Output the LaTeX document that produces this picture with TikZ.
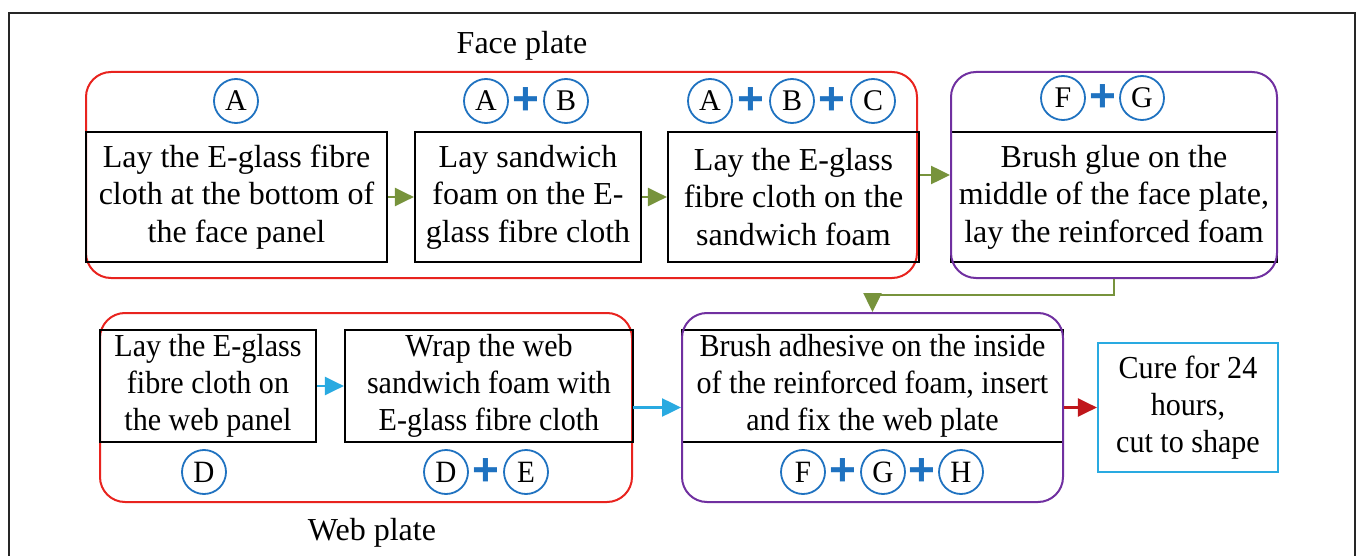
\documentclass[tikz,border=0pt]{standalone}
\usepackage{fontspec}
\setmainfont{Liberation Serif}
\newfontfamily\topfont{Liberation Serif}
\newfontfamily\botfont[FakeStretch=0.94]{Liberation Serif}
\newfontfamily\plusfont{Liberation Sans}
\usetikzlibrary{arrows.meta}
\definecolor{cred}{RGB}{232,35,30}
\definecolor{cpurple}{RGB}{112,48,160}
\definecolor{cgreen}{RGB}{119,147,60}
\definecolor{clblue}{RGB}{41,170,225}
\definecolor{cdred}{RGB}{192,22,27}
\definecolor{cblue}{RGB}{31,114,192}
\begin{document}
\begin{tikzpicture}[x=1pt,y=-1pt,
  stepbox/.style={draw=black, line width=2.2pt, align=center, inner sep=0pt},
  toptxt/.style={font=\topfont\fontsize{32}{37.5}\selectfont},
  bottxt/.style={font=\botfont\fontsize{32}{37}\selectfont},
  grp/.style={draw, rounded corners=25pt, line width=2pt, inner sep=0pt},
  lbl/.style={circle, draw=cblue, line width=1.8pt, minimum size=44pt, inner sep=0pt, font=\topfont\fontsize{30}{30}\selectfont},
  lblb/.style={lbl, font=\botfont\fontsize{31}{30}\selectfont},
  plus/.style={text=cblue, inner sep=0pt, font=\plusfont\bfseries\fontsize{46}{46}\selectfont},
  arr/.style={line width=2.5pt, -{Triangle[length=19pt,width=18pt]}},
  title/.style={font=\topfont\fontsize{32}{36}\selectfont}
]
\useasboundingbox (0,0) rectangle (1357,556);
% outer frame
\draw[line width=1.3pt, draw=black!85] (9,556) -- (9,13) -- (1355,13) -- (1355,556);

% titles
\node[title] (facelbl) at (522,46) {Face plate};
\node[title] (weblbl) at (372,533) {Web plate};

% red containers
\node[grp, draw=cred, minimum width=831pt, minimum height=206pt] (facec) at (501.5,175) {};
\node[grp, draw=cred, minimum width=532pt, minimum height=189pt] (webc) at (366,407.5) {};

% top row boxes
\node[stepbox, toptxt, minimum width=301pt, minimum height=130pt] (a1) at (236.5,197)
  {Lay the E-glass fibre\\cloth at the bottom of\\the face panel};
\node[stepbox, toptxt, minimum width=226pt, minimum height=130pt] (a2) at (528,197)
  {Lay sandwich\\foam on the E-\\glass fibre cloth};
\node[stepbox, toptxt, minimum width=251pt, minimum height=130pt] (a3) at (793.5,197)
  {Lay the E-glass\\fibre cloth on the\\sandwich foam};
\node[stepbox, toptxt, minimum width=326pt, minimum height=130pt] (p1) at (1114,197)
  {Brush glue on the\\middle of the face plate,\\lay the reinforced foam};

% bottom row boxes
\node[stepbox, bottxt, minimum width=216pt, minimum height=112pt] (b1) at (208,386)
  {Lay the E-glass\\fibre cloth on\\the web panel};
\node[stepbox, bottxt, minimum width=288pt, minimum height=112pt] (b2) at (489,386)
  {Wrap the web\\sandwich foam with\\E-glass fibre cloth};
\node[stepbox, bottxt, minimum width=381pt, minimum height=112pt] (p2) at (872.5,386)
  {Brush adhesive on the inside\\of the reinforced foam, insert\\and fix the web plate};
\node[stepbox, bottxt, draw=clblue, minimum width=180pt, minimum height=129pt] (cure) at (1188,407.5)
  {Cure for 24\\hours,\\cut to shape};

% purple containers
\node[grp, draw=cpurple, minimum width=326pt, minimum height=206pt] (p1c) at (1114,175) {};
\node[grp, draw=cpurple, minimum width=381pt, minimum height=189pt] (p2c) at (872.5,407.5) {};

% circled labels - top
\node[lbl] (cA1) at (236,101) {A};
\node[lbl] (cA2) at (486,101) {A};
\node[plus] (pl1) at (526,101) {+};
\node[lbl] (cB2) at (566,101) {B};
\node[lbl] (cA3) at (710,101) {A};
\node[plus] (pl2) at (751,101) {+};
\node[lbl] (cB3) at (792,101) {B};
\node[plus] (pl3) at (832,101) {+};
\node[lbl] (cC3) at (873,101) {C};
\node[lbl] (cF1) at (1063,98) {F};
\node[plus] (pl4) at (1103,98) {+};
\node[lbl] (cG1) at (1142,98) {G};

% circled labels - bottom
\node[lblb] (cD1) at (204,472) {D};
\node[lblb] (cD2) at (446,472) {D};
\node[plus] (pl5) at (486,472) {+};
\node[lblb] (cE2) at (526,472) {E};
\node[lblb] (cF2) at (803,472) {F};
\node[plus] (pl6) at (843,472) {+};
\node[lblb] (cG2) at (883,472) {G};
\node[plus] (pl7) at (922,472) {+};
\node[lblb] (cH2) at (961,472) {H};

% arrows
\draw[arr, cgreen] (a1.east) -- (a2.west);
\draw[arr, cgreen] (a2.east) -- (a3.west);
\draw[arr, cgreen] (a3.east |- p1c.west) -- (p1c.west);
\draw[arr, cgreen] (p1c.south) -- ++(0,16) -| (p2c.north);
\draw[arr, clblue] (b1.east) -- (b2.west);
\draw[arr, clblue] (webc.east) -- (p2c.west);
\draw[arr, cdred] (p2c.east) -- (cure.west);
\end{tikzpicture}
\end{document}
